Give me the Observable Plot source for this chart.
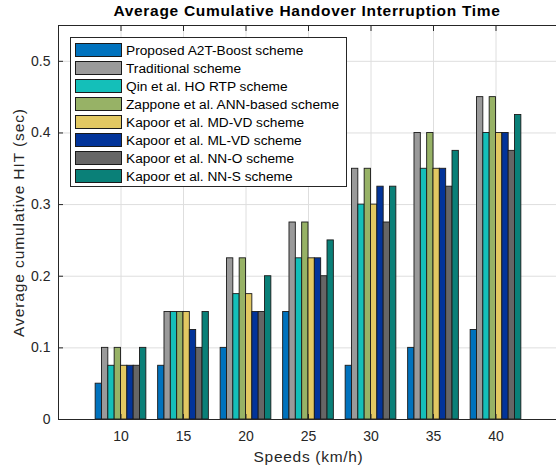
<!DOCTYPE html>
<html>
<head>
<meta charset="utf-8">
<script src="https://cdn.jsdelivr.net/npm/d3@7"></script>
<script src="https://cdn.jsdelivr.net/npm/@observablehq/plot@0.6"></script>
<style>
  body { margin: 0; background: #fff; font-family: "Liberation Sans", Arial, Helvetica, sans-serif; }
  #wrap { position: relative; width: 556px; height: 472px; overflow: hidden; }
  #title { position: absolute; left: 0; top: 2px; width: 614px; text-align: center;
           font-weight: bold; font-size: 15.5px; letter-spacing: 0.7px; color: #000; }
  #legend { position: absolute; left: 70px; top: 37px; width: 275px; height: 148px;
            background: #fff; border: 1px solid #262626; box-sizing: content-box; }
  .row { position: absolute; left: 4px; height: 18px; display: flex; align-items: center; }
  .sw { width: 45px; height: 12px; border: 1px solid #1a1a1a; margin-right: 4px; }
  .lab { font-size: 13.7px; color: #000; white-space: nowrap; }
</style>
</head>
<body>
<div id="wrap">
  <div id="chart"></div>
  <div id="title">Average Cumulative Handover Interruption Time</div>
  <div id="legend"></div>
</div>
<script>
// Vehicle speeds (km/h) at which the handover interruption time was measured
const speeds = [10, 15, 20, 25, 30, 35, 40];

// Compared schemes, in legend order
const schemes = [
  "Proposed A2T-Boost scheme",
  "Traditional scheme",
  "Qin et al. HO RTP scheme",
  "Zappone et al. ANN-based scheme",
  "Kapoor et al. MD-VD scheme",
  "Kapoor et al. ML-VD scheme",
  "Kapoor et al. NN-O scheme",
  "Kapoor et al. NN-S scheme"
];

// Average cumulative HIT (sec) per scheme, one value per speed
const proposed    = [0.050, 0.075, 0.100, 0.150, 0.075, 0.100, 0.125];
const traditional = [0.100, 0.150, 0.225, 0.275, 0.350, 0.400, 0.450];
const qin         = [0.075, 0.150, 0.175, 0.225, 0.300, 0.350, 0.400];
const zappone     = [0.100, 0.150, 0.225, 0.275, 0.350, 0.400, 0.450];
const kapoorMDVD  = [0.075, 0.150, 0.175, 0.225, 0.300, 0.350, 0.400];
const kapoorMLVD  = [0.075, 0.125, 0.150, 0.225, 0.325, 0.350, 0.400];
const kapoorNNO   = [0.075, 0.100, 0.150, 0.200, 0.275, 0.325, 0.375];
const kapoorNNS   = [0.100, 0.150, 0.200, 0.250, 0.325, 0.375, 0.425];

const series = [proposed, traditional, qin, zappone, kapoorMDVD, kapoorMLVD, kapoorNNO, kapoorNNS];

// Y axis ticks and their labels
const yTicks = [0, 0.1, 0.2, 0.3, 0.4, 0.5];
const yTickLabels = ["0", "0.1", "0.2", "0.3", "0.4", "0.5"];

// Bar fill colours, in scheme order
const colors = ["#0072bd", "#9a9a9a", "#14bfb9", "#97b266", "#e2c862", "#02349a", "#666666", "#0a8078"];

// Long-format table for the grouped bars
const table = [];
series.forEach((vals, si) => {
  vals.forEach((v, k) => table.push({ speed: speeds[k], scheme: schemes[si], idx: si, hit: v }));
});

// Each bar spans a fixed slice of the speed axis, grouped around its speed
const barW = 0.507;
const nS = schemes.length;
const left = d => d.speed + (d.idx - nS / 2) * barW;
const right = d => d.speed + (d.idx - nS / 2 + 1) * barW;

const gridColor = "#dedede";
const axisColor = "#262626";

const chart = Plot.plot({
  width: 556,
  height: 472,
  marginLeft: 58,
  marginRight: -2,
  marginTop: 25,
  marginBottom: 53,
  style: { fontFamily: "'Liberation Sans', Arial, Helvetica, sans-serif", fontSize: "14px", color: axisColor, background: "#fff" },
  x: { domain: [5, 45] },
  y: { domain: [0, 0.55] },
  color: { domain: schemes, range: colors },
  marks: [
    Plot.gridX(speeds, { stroke: gridColor, strokeOpacity: 1 }),
    Plot.gridY(yTicks, { stroke: gridColor, strokeOpacity: 1 }),
    Plot.rectY(table, { x1: left, x2: right, y: "hit", fill: "scheme", stroke: "#1a1a1a", strokeWidth: 0.9 }),
    Plot.frame({ stroke: axisColor }),
    // tick labels and axis titles
    Plot.axisX({ ticks: speeds, tickSize: 0, tickPadding: 12, tickFormat: d => String(d),
                 label: "Speeds (km/h)", labelAnchor: "center", labelArrow: "none", labelOffset: 42, fill: axisColor }),
    Plot.axisY({ ticks: yTicks, tickSize: 0, tickPadding: 8, tickFormat: d => yTickLabels[yTicks.indexOf(d)],
                 label: "Average cumulative HIT (sec)", labelAnchor: "center", labelArrow: "none", labelOffset: 46, fill: axisColor }),
    // inward tick marks on the box
    Plot.axisX({ ticks: speeds, tickSize: -5, tickFormat: () => "", label: null, anchor: "bottom", stroke: axisColor }),
    Plot.axisX({ ticks: speeds, tickSize: -5, tickFormat: () => "", label: null, anchor: "top", stroke: axisColor }),
    Plot.axisY({ ticks: yTicks, tickSize: -5, tickFormat: () => "", label: null, anchor: "left", stroke: axisColor })
  ]
});
document.getElementById("chart").appendChild(chart);

// Axis titles use a slightly larger, wider-set font
chart.querySelectorAll("[aria-label$='axis label'] text").forEach(t => {
  t.setAttribute("font-size", "15.5");
});
chart.querySelectorAll("[aria-label='x-axis label'] text").forEach(t => t.setAttribute("letter-spacing", "0.7"));
chart.querySelectorAll("[aria-label='y-axis label'] text").forEach(t => t.setAttribute("letter-spacing", "0.9"));

// Legend rows
const legend = document.getElementById("legend");
schemes.forEach((name, i) => {
  const row = document.createElement("div");
  row.className = "row";
  row.style.top = (3 + i * 18) + "px";
  const sw = document.createElement("div");
  sw.className = "sw";
  sw.style.background = colors[i];
  const lab = document.createElement("span");
  lab.className = "lab";
  lab.textContent = name;
  row.appendChild(sw);
  row.appendChild(lab);
  legend.appendChild(row);
});
</script>
</body>
</html>
